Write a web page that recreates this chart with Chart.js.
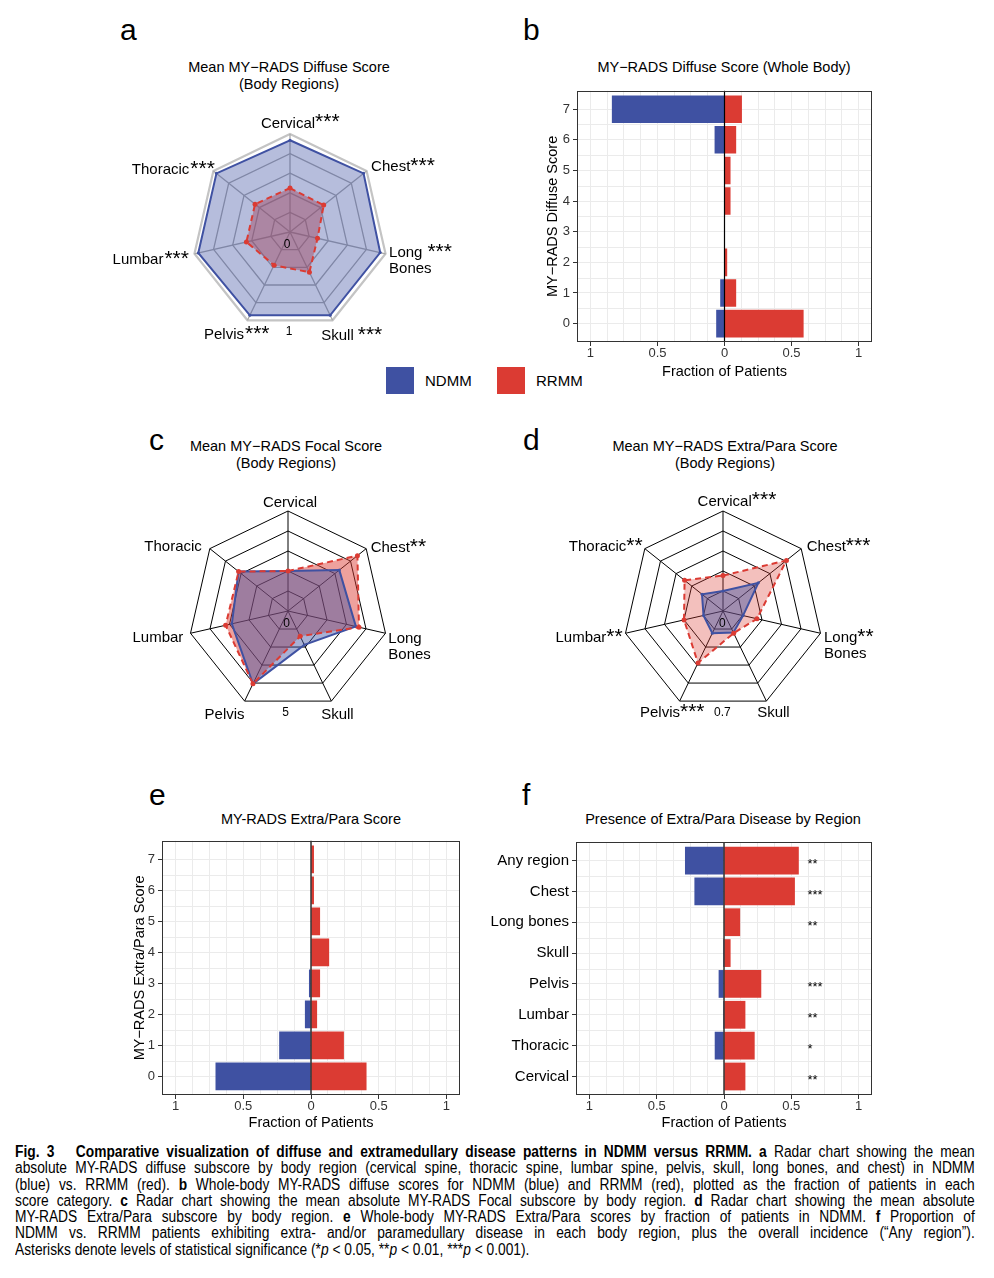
<!DOCTYPE html>
<html>
<head>
<meta charset="utf-8">
<script src="https://cdn.jsdelivr.net/npm/chart.js@4.4.0/dist/chart.umd.min.js"></script>
<style>
  body { margin: 0; background: #fff; }
  #fig { position: relative; width: 994px; height: 1278px; font-family: 'Liberation Sans', Arial, sans-serif; color: #000; overflow: hidden; }
  .abs { position: absolute; }
  .letter { position: absolute; font-size: 30px; line-height: 30px; }
  .ttl { position: absolute; width: 420px; text-align: center; font-size: 14.5px; line-height: 16.5px; white-space: nowrap; }
  .sw { position: absolute; width: 28px; height: 27px; }
  .lg { position: absolute; font-size: 15px; line-height: 16px; }
  #caption { position: absolute; left: 15px; top: 1144px; width: 960px; font-size: 16px; line-height: 16.3px; }
  #caption div { width: 1116px; height: 16.3px; text-align: justify; text-align-last: justify; transform: scaleX(0.86); transform-origin: 0 0; }
  #caption div.last { text-align-last: left; }
</style>
</head>
<body>
<div id="fig">
  <div class="letter" style="left:120px; top:15px;">a</div>
  <div class="letter" style="left:523px; top:15px;">b</div>
  <div class="letter" style="left:149px; top:425px;">c</div>
  <div class="letter" style="left:523px; top:425px;">d</div>
  <div class="letter" style="left:149px; top:780px;">e</div>
  <div class="letter" style="left:522px; top:780px;">f</div>

  <div class="ttl" style="left:79px; top:59px;">Mean MY−RADS Diffuse Score<br>(Body Regions)</div>
  <div class="ttl" style="left:514px; top:59px;">MY−RADS Diffuse Score (Whole Body)</div>
  <div class="ttl" style="left:76px; top:438px;">Mean MY−RADS Focal Score<br>(Body Regions)</div>
  <div class="ttl" style="left:515px; top:438px;">Mean MY−RADS Extra/Para Score<br>(Body Regions)</div>
  <div class="ttl" style="left:101px; top:811px;">MY-RADS Extra/Para Score</div>
  <div class="ttl" style="left:513px; top:811px;">Presence of Extra/Para Disease by Region</div>

  <div class="sw" style="left:386px; top:367px; background:#3F51A2;"></div>
  <div class="lg" style="left:425px; top:373px;">NDMM</div>
  <div class="sw" style="left:497px; top:367px; background:#DB3B33;"></div>
  <div class="lg" style="left:536px; top:373px;">RRMM</div>

  <div class="abs" style="left:100px; top:95px;"><canvas id="radarA" width="380" height="260"></canvas></div>
  <div class="abs" style="left:540px; top:80px;"><canvas id="barB" width="340" height="305"></canvas></div>
  <div class="abs" style="left:100px; top:475px;"><canvas id="radarC" width="380" height="260"></canvas></div>
  <div class="abs" style="left:530px; top:475px;"><canvas id="radarD" width="380" height="260"></canvas></div>
  <div class="abs" style="left:127px; top:830px;"><canvas id="barE" width="339" height="306"></canvas></div>
  <div class="abs" style="left:480px; top:830px;"><canvas id="barF" width="400" height="306"></canvas></div>

  <div id="caption">
    <div><b>Fig. 3&nbsp;&nbsp; Comparative visualization of diffuse and extramedullary disease patterns in NDMM versus RRMM. a</b> Radar chart showing the mean</div>
    <div>absolute MY-RADS diffuse subscore by body region (cervical spine, thoracic spine, lumbar spine, pelvis, skull, long bones, and chest) in NDMM</div>
    <div>(blue) vs. RRMM (red). <b>b</b> Whole-body MY-RADS diffuse scores for NDMM (blue) and RRMM (red), plotted as the fraction of patients in each</div>
    <div>score category. <b>c</b> Radar chart showing the mean absolute MY-RADS Focal subscore by body region. <b>d</b> Radar chart showing the mean absolute</div>
    <div>MY-RADS Extra/Para subscore by body region. <b>e</b> Whole-body MY-RADS Extra/Para scores by fraction of patients in NDMM. <b>f</b> Proportion of</div>
    <div>NDMM vs. RRMM patients exhibiting extra- and/or paramedullary disease in each body region, plus the overall incidence (“Any region”).</div>
    <div class="last">Asterisks denote levels of statistical significance (*<i>p</i> &lt; 0.05, **<i>p</i> &lt; 0.01, ***<i>p</i> &lt; 0.001).</div>
  </div>
</div>

<script>
const FONT  = "'Liberation Sans', Arial, sans-serif";
const BLUE  = '#3F51A2';
const RED   = '#DB3B33';
const GRID  = '#EBEBEB';
const AXIS  = '#333333';
const NONE  = 'rgba(0,0,0,0)';

// radar panels (a, c, d) - regions clockwise from the top
const regions = ['Cervical', 'Chest', ['Long', 'Bones'], 'Skull', 'Pelvis', 'Lumbar', 'Thoracic'];

const diffuseMax   = 1;
const diffuseNDMM  = [0.92, 0.95, 0.93, 0.93, 0.93, 0.95, 0.95];
const diffuseRRMM  = [0.31, 0.30, 0.11, 0.32, 0.22, 0.32, 0.32];
const diffuseStars = ['***', '***', '***', '***', '***', '***', '***'];

const focalMax   = 5;
const focalNDMM  = [1.25, 2.85, 3.10, 1.10, 3.80, 2.35, 2.70];
const focalRRMM  = [1.25, 4.30, 3.30, 0.50, 3.80, 2.75, 2.70];
const focalStars = ['', '**', '', '', '', '', ''];

const extraMax   = 0.7;
const extraNDMM  = [0.00, 0.22, 0.005, 0.035, 0.04, 0.00, 0.06];
const extraRRMM  = [0.135, 0.535, 0.13, 0.04, 0.33, 0.175, 0.255];
const extraStars = ['***', '***', '**', '', '***', '**', '**'];

// bar panels (b, e, f)
const scoreLevels     = [0, 1, 2, 3, 4, 5, 6, 7];
const diffuseFracNDMM = [0.062, 0.032, 0, 0, 0, 0, 0.074, 0.84];
const diffuseFracRRMM = [0.59, 0.087, 0.02, 0, 0.045, 0.045, 0.087, 0.13];
const extraFracNDMM   = [0.705, 0.235, 0.045, 0.015, 0, 0, 0, 0];
const extraFracRRMM   = [0.41, 0.243, 0.045, 0.067, 0.134, 0.067, 0.022, 0.022];

const presenceRegions = ['Any region', 'Chest', 'Long bones', 'Skull', 'Pelvis', 'Lumbar', 'Thoracic', 'Cervical'];
const presenceNDMM    = [0.29, 0.22, 0, 0.007, 0.04, 0.007, 0.069, 0];
const presenceRRMM    = [0.556, 0.527, 0.12, 0.049, 0.277, 0.159, 0.228, 0.159];
const presenceStars   = ['**', '***', '**', '', '***', '**', '*', '**'];

const fractionTicks = [-1, -0.5, 0, 0.5, 1];

Chart.defaults.font.family = FONT;
Chart.defaults.color = '#000';

// region names + superscript asterisks + the 0 / max scale labels
const radarLabels = {
  id: 'radarLabels',
  afterDraw(chart, args, o) {
    const r = chart.scales.r;
    const ctx = chart.ctx;
    ctx.save();
    ctx.fillStyle = '#000';
    ctx.textAlign = 'left';
    ctx.textBaseline = 'alphabetic';
    chart.data.labels.forEach((label, i) => {
      const L = o.layout[i];
      const p = r.getPointPosition(i, r.drawingArea);
      const lines = Array.isArray(label) ? label : [label];
      const x0 = p.x + L.dx, y0 = p.y + L.dy;
      const star = o.stars[i];
      const gap = L.gap || 0;
      ctx.font = '15px ' + FONT;
      const w = ctx.measureText(lines[0]).width;
      ctx.font = '21px ' + FONT;
      const sw = star ? ctx.measureText(star).width + gap : 0;
      let left = x0;
      if (L.align === 'center') left = x0 - w / 2;
      if (L.align === 'right') left = x0 - w - sw;
      ctx.font = '15px ' + FONT;
      lines.forEach((t, k) => ctx.fillText(t, left, y0 + 5.5 + k * 16));
      if (star) {
        ctx.font = '21px ' + FONT;
        ctx.fillText(star, left + w + gap, y0 + 6);
      }
    });
    ctx.font = '12px ' + FONT;
    ctx.textAlign = 'center';
    ctx.textBaseline = 'middle';
    ctx.fillText('0', r.xCenter + o.zeroDx, r.yCenter + 12.5);
    ctx.fillText(String(r.max), r.xCenter + o.maxDx, r.yCenter + r.drawingArea * Math.cos(Math.PI / 7) + 11.5);
    ctx.restore();
  }
};

function radarChart(id, ndmm, rrmm, max, stars, cfg) {
  // fills and outlines are separate so the blue fill sits over the red fill
  // while the red dashed outline stays on top of everything
  const fillOnly = { borderColor: NONE, borderWidth: 0, pointRadius: 0, fill: 'start' };
  new Chart(document.getElementById(id), {
    type: 'radar',
    data: {
      labels: regions,
      datasets: [
        { label: 'RRMM', data: rrmm, borderColor: RED, borderWidth: 2, borderDash: [6, 4], fill: false,
          pointRadius: 2.5, pointBackgroundColor: RED, pointBorderWidth: 0, order: 0 },
        { label: 'NDMM', data: ndmm, borderColor: BLUE, borderWidth: 2, fill: false,
          pointRadius: 1.5, pointBackgroundColor: BLUE, pointBorderWidth: 0, order: 1 },
        { label: 'NDMM area', data: ndmm, backgroundColor: cfg.blueFill, ...fillOnly, order: 2 },
        { label: 'RRMM area', data: rrmm, backgroundColor: cfg.redFill, ...fillOnly, order: 3 },
      ],
    },
    options: {
      responsive: false,
      animation: false,
      layout: { padding: cfg.padding },
      plugins: {
        legend: { display: false },
        tooltip: { enabled: false },
        radarLabels: { layout: cfg.layout, stars, zeroDx: cfg.zeroDx, maxDx: cfg.maxDx },
      },
      scales: {
        r: {
          min: -max / 4,
          max: max,
          afterBuildTicks: s => { s.ticks = [-max / 4, 0, max / 4, max / 2, 3 * max / 4, max].map(v => ({ value: v })); },
          ticks: { display: false },
          pointLabels: { display: false },
          grid: { color: cfg.gridColor, lineWidth: cfg.gridWidth },
          angleLines: { color: cfg.spokeColor, lineWidth: cfg.spokeWidth },
        },
      },
    },
    plugins: [radarLabels],
  });
}

radarChart('radarA', diffuseNDMM, diffuseRRMM, diffuseMax, diffuseStars, {
  padding: { left: 92, top: 39, right: 92, bottom: 25 },
  blueFill: 'rgba(63, 81, 162, 0.38)', redFill: 'rgba(219, 59, 51, 0.45)',
  gridColor: c => c.index === 5 ? '#C4C4C4' : '#A8A8A8',
  gridWidth: c => c.index === 5 ? 2.2 : 1.3,
  spokeColor: '#A8A8A8', spokeWidth: 1.3,
  zeroDx: -3, maxDx: -1,
  layout: [
    { dx: -2,  dy: -12, align: 'center' },
    { dx: 4.5, dy: -5,  align: 'left' },
    { dx: 3.5, dy: -2,  align: 'left', gap: 5 },
    { dx: 5,   dy: 14.5, align: 'center', gap: 4 },
    { dx: -23.5, dy: 13.5, align: 'center', gap: 1 },
    { dx: -5.5, dy: 5,  align: 'right', gap: 1 },
    { dx: 1.5, dy: -2,  align: 'right', gap: 1 },
  ],
});

radarChart('radarC', focalNDMM, focalRRMM, focalMax, focalStars, {
  padding: { left: 88, top: 36, right: 92, bottom: 24 },
  blueFill: 'rgba(63, 81, 162, 0.45)', redFill: 'rgba(219, 59, 51, 0.48)',
  gridColor: '#000', gridWidth: 1, spokeColor: '#000', spokeWidth: 1,
  zeroDx: -1.3, maxDx: -2.3,
  layout: [
    { dx: 2,   dy: -10, align: 'center' },
    { dx: 4.5, dy: -2,  align: 'left' },
    { dx: 2.8, dy: 4,   align: 'left' },
    { dx: 6,   dy: 12,  align: 'center' },
    { dx: -20, dy: 12,  align: 'center' },
    { dx: -7.2, dy: 3.4, align: 'right' },
    { dx: -8,  dy: -2.7, align: 'right' },
  ],
});

radarChart('radarD', extraNDMM, extraRRMM, extraMax, extraStars, {
  padding: { left: 93, top: 36, right: 87, bottom: 24 },
  blueFill: 'rgba(63, 81, 162, 0.45)', redFill: 'rgba(219, 59, 51, 0.32)',
  gridColor: '#000', gridWidth: 1, spokeColor: '#000', spokeWidth: 1,
  zeroDx: -0.7, maxDx: -0.7,
  layout: [
    { dx: 1.7, dy: -11, align: 'center' },
    { dx: 5.5, dy: -2.7, align: 'left' },
    { dx: 3.5, dy: 3.4, align: 'left' },
    { dx: 7,   dy: 10.6, align: 'center' },
    { dx: -19.6, dy: 10.6, align: 'center' },
    { dx: -2.8, dy: 3.4, align: 'right' },
    { dx: -2.1, dy: -2.7, align: 'right' },
  ],
});

// frame, half-step grid, zero line and significance marks for the bar panels
const barFrame = {
  id: 'barFrame',
  beforeDatasetsDraw(chart) {
    const { ctx, chartArea: a, scales: { y } } = chart;
    ctx.save();
    ctx.strokeStyle = GRID;
    ctx.lineWidth = 1;
    for (let i = 0; i < y.ticks.length - 1; i++) {
      const py = Math.round(y.getPixelForValue(i + 0.5)) + 0.5;
      ctx.beginPath(); ctx.moveTo(a.left, py); ctx.lineTo(a.right, py); ctx.stroke();
    }
    ctx.restore();
  },
  afterDatasetsDraw(chart, args, o) {
    const { ctx, chartArea: a, scales: { x, y } } = chart;
    ctx.save();
    const zx = x.getPixelForValue(0);
    ctx.strokeStyle = '#000';
    ctx.lineWidth = 1.2;
    ctx.beginPath(); ctx.moveTo(zx, a.top); ctx.lineTo(zx, a.bottom); ctx.stroke();
    ctx.strokeStyle = AXIS;
    ctx.lineWidth = 1;
    ctx.strokeRect(Math.round(a.left) + 0.5, Math.round(a.top) + 0.5, Math.round(a.right - a.left) - 1, Math.round(a.bottom - a.top) - 1);
    if (o.stars) {
      ctx.fillStyle = '#000';
      ctx.font = '13px ' + FONT;
      ctx.textAlign = 'left';
      ctx.textBaseline = 'alphabetic';
      o.stars.forEach((s, i) => { if (s) ctx.fillText(s, x.getPixelForValue(0.62), y.getPixelForValue(i) + 7.5); });
    }
    ctx.restore();
  }
};

const isLabelled = v => fractionTicks.some(t => Math.abs(t - v) < 1e-9);
const gridSteps = [];
for (let k = -8; k <= 8; k++) gridSteps.push(k / 8);

function barChart(id, cfg) {
  const { cats, ndmm, rrmm, box, area } = cfg;
  new Chart(document.getElementById(id), {
    type: 'bar',
    data: {
      datasets: [
        { label: 'NDMM', data: cats.map((c, i) => ({ x: -ndmm[i], y: i })), backgroundColor: BLUE },
        { label: 'RRMM', data: cats.map((c, i) => ({ x: rrmm[i], y: i })), backgroundColor: RED },
      ],
    },
    options: {
      indexAxis: 'y',
      responsive: false,
      animation: false,
      datasets: { bar: { categoryPercentage: 1, barPercentage: 0.9, borderWidth: 0 } },
      layout: { padding: { top: area.top - box.top, right: box.left + box.width - area.right, left: 0, bottom: 0 } },
      plugins: { legend: { display: false }, tooltip: { enabled: false }, barFrame: { stars: cfg.stars } },
      scales: {
        x: {
          type: 'linear', stacked: true, min: -1.1, max: 1.1, bounds: 'data',
          afterBuildTicks: s => { s.ticks = gridSteps.map(v => ({ value: v })); },
          afterFit: s => { s.height = box.top + box.height - area.bottom; },
          grid: { color: GRID, lineWidth: 1, tickLength: 4, tickColor: c => isLabelled(c.tick.value) ? AXIS : NONE },
          border: { display: false },
          ticks: { autoSkip: false, maxRotation: 0, padding: 0, color: AXIS, font: { size: 13 },
                   callback: v => isLabelled(v) ? String(Math.abs(v)) : '' },
          title: { display: true, text: 'Fraction of Patients', font: { size: 14.5 }, color: '#000', padding: 4 },
        },
        y: {
          type: 'linear', stacked: true, reverse: !!cfg.reverse, min: -0.6, max: 7.6, bounds: 'data',
          offset: false,
          afterBuildTicks: s => { s.ticks = cats.map((c, i) => ({ value: i })); },
          afterFit: s => { s.width = area.left - box.left; },
          grid: { color: GRID, lineWidth: 1, tickLength: 4, tickColor: AXIS, offset: false },
          border: { display: false },
          ticks: { padding: 3, color: cfg.tickColor || AXIS, font: { size: cfg.tickSize || 13 },
                   callback: v => String(cats[v]) },
          title: cfg.yTitle ? { display: true, text: cfg.yTitle, font: { size: 14.5 }, color: '#000', padding: 4 }
                            : { display: false },
        },
      },
    },
    plugins: [barFrame],
  });
}

barChart('barB', {
  cats: scoreLevels, ndmm: diffuseFracNDMM, rrmm: diffuseFracRRMM,
  box: { left: 540, top: 80, width: 340, height: 305 },
  area: { left: 577, top: 85, right: 872, bottom: 342 },
  yTitle: 'MY−RADS Diffuse Score',
});

barChart('barE', {
  cats: scoreLevels, ndmm: extraFracNDMM, rrmm: extraFracRRMM,
  box: { left: 127, top: 830, width: 339, height: 306 },
  area: { left: 162, top: 836, right: 460, bottom: 1095 },
  yTitle: 'MY−RADS Extra/Para Score',
});

barChart('barF', {
  cats: presenceRegions, ndmm: presenceNDMM, rrmm: presenceRRMM, stars: presenceStars,
  box: { left: 480, top: 830, width: 400, height: 306 },
  area: { left: 576, top: 836, right: 872, bottom: 1095 },
  reverse: true, tickColor: '#000', tickSize: 15,
});
</script>
</body>
</html>
